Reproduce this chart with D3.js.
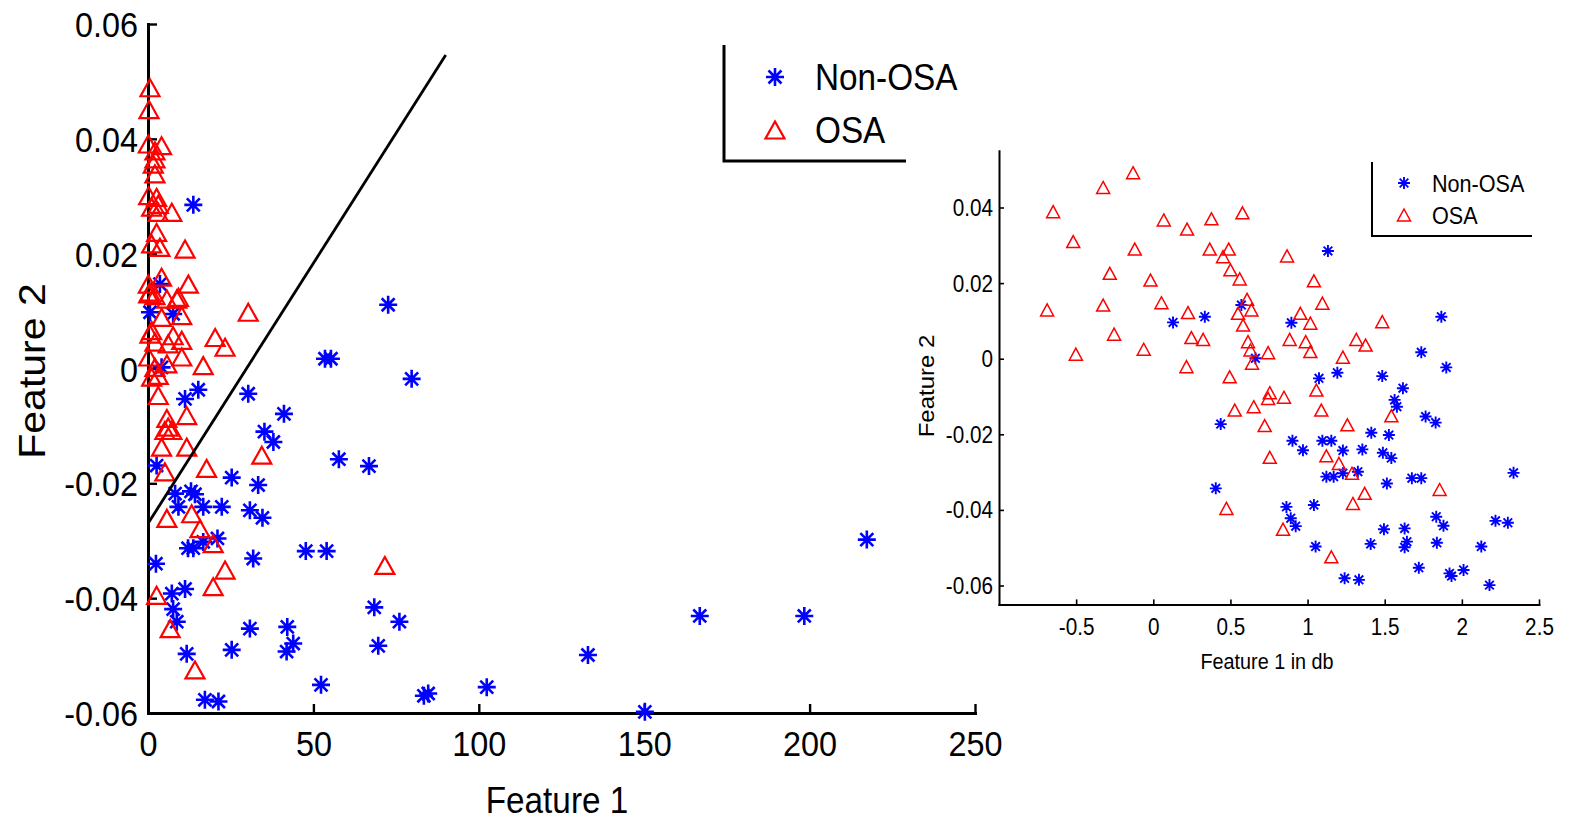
<!DOCTYPE html>
<html><head><meta charset="utf-8">
<script src="https://cdn.jsdelivr.net/npm/d3@7"></script>
<style>body{margin:0;background:#fff} svg{display:block} text{font-family:"Liberation Sans",Arial,sans-serif;fill:#000}</style>
</head><body><svg id="c" width="1570" height="822"></svg>
<script>
// ---------- DATA ----------
const leftNonOSA=[[13.7,0.0285],[3.6,0.0147],[0.6,0.0098],[7.6,0.0095],[4.1,0.0002],[15.2,-0.0037],[11.2,-0.0053],[30.3,-0.0044],[35.2,-0.0110],[37.9,-0.0128],[41.1,-0.0079],[2.6,-0.0169],[25.3,-0.0190],[33.3,-0.0203],[8.2,-0.0218],[13.0,-0.0214],[14.2,-0.0219],[9.2,-0.0241],[16.7,-0.0241],[22.3,-0.0241],[30.8,-0.0247],[34.6,-0.0260],[13.7,-0.0313],[12.1,-0.0313],[16.7,-0.0302],[21.0,-0.0296],[2.4,-0.0340],[31.8,-0.0331],[11.2,-0.0384],[7.2,-0.0392],[7.6,-0.0419],[8.7,-0.0441],[30.8,-0.0453],[25.3,-0.0490],[11.7,-0.0497],[17.2,-0.0577],[21.3,-0.0580],[72.6,0.0111],[53.5,0.0017],[55.3,0.0017],[79.7,-0.0018],[57.7,-0.0158],[66.8,-0.0170],[47.7,-0.0318],[54.0,-0.0318],[68.4,-0.0416],[76.0,-0.0441],[42.1,-0.0450],[43.9,-0.0479],[41.9,-0.0493],[69.6,-0.0483],[52.3,-0.0551],[84.7,-0.0566],[83.4,-0.0570],[102.4,-0.0555],[133.0,-0.0499],[150.2,-0.0598],[166.8,-0.0431],[198.4,-0.0431],[217.3,-0.0298]];
const leftOSA=[[0.6,0.0489],[0.3,0.0451],[0.1,0.0391],[4.1,0.0388],[2.1,0.0379],[2.1,0.0365],[1.6,0.0356],[2.1,0.0339],[0.2,0.0301],[2.6,0.0298],[3.1,0.0286],[1.1,0.0281],[3.1,0.0272],[7.2,0.0272],[2.6,0.0237],[1.1,0.0217],[3.6,0.0211],[11.2,0.0208],[4.1,0.0159],[0.1,0.0147],[12.2,0.0147],[0.2,0.0130],[2.1,0.0127],[5.7,0.0121],[8.7,0.0121],[30.3,0.0098],[4.1,0.0089],[10.2,0.0092],[1.1,0.0066],[7.6,0.0057],[10.2,0.0049],[20.3,0.0054],[23.3,0.0037],[2.1,0.0046],[6.1,0.0043],[0.2,0.0020],[10.2,0.0020],[16.7,0.0005],[5.7,0.0008],[2.1,0.0002],[1.1,-0.0015],[3.1,-0.0012],[3.1,-0.0047],[11.7,-0.0082],[5.7,-0.0087],[6.1,-0.0102],[5.1,-0.0108],[7.2,-0.0108],[4.1,-0.0137],[11.7,-0.0137],[5.1,-0.0180],[17.7,-0.0174],[34.4,-0.0151],[5.7,-0.0261],[13.2,-0.0253],[15.7,-0.0279],[19.7,-0.0305],[23.3,-0.0351],[19.7,-0.0380],[2.6,-0.0395],[6.7,-0.0453],[14.2,-0.0525],[71.6,-0.0343],[0.6,0.0060],[9.2,0.0124],[0.6,0.0133]];
const rightNonOSA=[[1.132,0.0285],[0.128,0.0096],[0.334,0.0111],[0.571,0.0142],[0.662,0.0001],[0.437,-0.0173],[0.895,0.0095],[1.867,0.0111],[1.737,0.0017],[1.899,-0.0023],[1.193,-0.0037],[1.074,-0.0052],[1.484,-0.0046],[1.618,-0.0078],[1.564,-0.0109],[1.579,-0.0127],[1.765,-0.0153],[1.830,-0.0169],[1.413,-0.0196],[1.527,-0.0202],[0.902,-0.0217],[1.096,-0.0217],[1.154,-0.0217],[0.970,-0.0242],[1.229,-0.0243],[1.355,-0.0240],[1.488,-0.0249],[1.543,-0.0263],[1.122,-0.0312],[1.169,-0.0312],[1.229,-0.0303],[1.326,-0.0299],[1.514,-0.0330],[1.676,-0.0316],[1.737,-0.0316],[2.335,-0.0302],[0.405,-0.0343],[0.863,-0.0392],[1.041,-0.0387],[0.891,-0.0422],[0.923,-0.0443],[1.495,-0.0451],[1.629,-0.0449],[1.834,-0.0418],[1.881,-0.0442],[1.644,-0.0484],[1.629,-0.0499],[1.409,-0.0490],[1.052,-0.0497],[1.838,-0.0487],[2.126,-0.0497],[2.218,-0.0429],[2.298,-0.0434],[1.721,-0.0553],[1.920,-0.0568],[1.933,-0.0575],[2.011,-0.0559],[1.240,-0.0581],[1.333,-0.0585],[2.179,-0.0599]];
const rightOSA=[[-0.131,0.0492],[-0.325,0.0453],[-0.649,0.0389],[0.068,0.0367],[0.377,0.0370],[0.578,0.0386],[0.219,0.0343],[-0.519,0.0310],[-0.120,0.0290],[0.366,0.0290],[0.489,0.0290],[0.452,0.0270],[-0.282,0.0226],[-0.018,0.0208],[0.500,0.0235],[0.560,0.0211],[-0.688,0.0129],[-0.325,0.0142],[0.053,0.0148],[0.225,0.0122],[0.608,0.0157],[0.549,0.0120],[0.636,0.0129],[0.582,0.0089],[-0.254,0.0065],[0.247,0.0056],[0.323,0.0051],[-0.062,0.0025],[-0.502,0.0012],[0.614,0.0045],[0.630,0.0023],[0.744,0.0016],[0.640,-0.0012],[0.215,-0.0021],[0.495,-0.0048],[0.755,-0.0090],[0.744,-0.0105],[0.528,-0.0136],[0.651,-0.0127],[0.722,-0.0177],[0.867,0.0272],[1.041,0.0206],[1.096,0.0147],[0.953,0.0120],[1.018,0.0094],[1.484,0.0098],[0.884,0.0051],[0.988,0.0045],[1.018,0.0019],[1.316,0.0051],[1.376,0.0036],[1.229,0.0004],[0.847,-0.0102],[1.057,-0.0083],[1.089,-0.0136],[1.543,-0.0151],[1.258,-0.0175],[0.755,-0.0261],[1.122,-0.0257],[1.203,-0.0277],[1.288,-0.0303],[1.370,-0.0356],[0.474,-0.0396],[1.294,-0.0383],[0.841,-0.0451],[1.856,-0.0346],[1.154,-0.0524]];
const boundaryLine=[[0,-0.027],[90,0.0546]];
const leftXTicks=[0,50,100,150,200,250];
const leftYTicks=[-0.06,-0.04,-0.02,0,0.02,0.04,0.06];
const rightXTicks=[-0.5,0,0.5,1,1.5,2,2.5];
const rightYTicks=[-0.06,-0.04,-0.02,0,0.02,0.04];
const legendLabels=["Non-OSA","OSA"];
const axisTitles={leftX:"Feature 1",leftY:"Feature 2",rightX:"Feature 1 in db",rightY:"Feature 2"};

// ---------- DRAW ----------
const SX=0.9;
const svg=d3.select("#c");
const BLUE="#0000ff", RED="#ff0000";
function starPath(r){const d=r*0.72;return `M${-r},0H${r}M0,${-r}V${r}M${-d},${-d}L${d},${d}M${-d},${d}L${d},${-d}`;}
function triPath(w,h){return `M0,${-h/2}L${w/2},${h/2}L${-w/2},${h/2}Z`;}

function panel(c){
  const x=d3.scaleLinear().domain(c.xd).range(c.xr);
  const y=d3.scaleLinear().domain(c.yd).range(c.yr);
  const g=svg.append("g");
  const gx=g.append("g").attr("transform",`translate(0,${c.yr[0]})`)
    .call(d3.axisBottom(x).tickValues(c.xt).tickSize(-c.ts).tickSizeOuter(0).tickFormat(d=>String(d)));
  const gy=g.append("g").attr("transform",`translate(${c.xr[0]},0)`)
    .call(d3.axisLeft(y).tickValues(c.yt).tickSize(-c.ts).tickSizeOuter(0).tickFormat(d=>String(d)));
  [gx,gy].forEach(a=>{
    a.select(".domain").attr("stroke","#000").attr("stroke-width",c.aw).attr("stroke-linecap","square");
    a.selectAll(".tick line").attr("stroke","#000").attr("stroke-width",c.aw*0.8);
    a.selectAll("text").attr("font-size",c.fs).attr("fill","#000").attr("font-family",'"Liberation Sans",Arial,sans-serif');
  });
  gx.selectAll("text").attr("y",c.xlo).attr("dy","0.71em").attr("transform",`scale(${SX},1)`);
  gy.selectAll("text").attr("x",-c.ylo/SX).attr("dy","0.35em").attr("transform",`scale(${SX},1)`);
  g.append("g").selectAll("path").data(c.non).join("path")
    .attr("d",starPath(c.sr)).attr("transform",d=>`translate(${x(d[0])},${y(d[1])})`)
    .attr("fill","none").attr("stroke",BLUE).attr("stroke-width",c.ssw);
  g.append("g").selectAll("path").data(c.osa).join("path")
    .attr("d",triPath(c.tw,c.th)).attr("transform",d=>`translate(${x(d[0])},${y(d[1])})`)
    .attr("fill","none").attr("stroke",RED).attr("stroke-width",c.msw);
  g.append("text").attr("transform",`translate(${c.xtx},${c.xty}) scale(${SX},1)`)
    .attr("text-anchor","middle").attr("font-size",c.tfs).text(c.xtitle);
  g.append("text").attr("transform",`translate(${c.ytx},${c.yty}) scale(${SX},1) rotate(-90)`)
    .attr("text-anchor","middle").attr("font-size",c.tyfs).text(c.ytitle);
  const L=c.leg;
  g.append("path").attr("d",`M${L.x},${L.y0}V${L.y1}H${L.x1}`).attr("fill","none").attr("stroke","#000").attr("stroke-width",c.aw);
  legendLabels.forEach((lab,i)=>{
    const my=L.my[i];
    if(i===0) g.append("path").attr("d",starPath(c.sr)).attr("transform",`translate(${L.mx},${my})`).attr("fill","none").attr("stroke",BLUE).attr("stroke-width",c.ssw);
    else g.append("path").attr("d",triPath(c.tw,c.th)).attr("transform",`translate(${L.mx},${my})`).attr("fill","none").attr("stroke",RED).attr("stroke-width",c.msw);
    g.append("text").attr("transform",`translate(${L.tx},${my}) scale(${SX},1)`).attr("dy","0.36em")
      .attr("font-size",L.fs).text(lab);
  });
  return {x,y,g};
}

const P1=panel({xd:[0,250],xr:[148,975],yd:[-0.06,0.06],yr:[713,24],xt:leftXTicks,yt:leftYTicks,
  ts:9,aw:3,fs:36,xlo:17,ylo:10,non:leftNonOSA,osa:leftOSA,sr:9,tw:19,th:17,msw:2.2,ssw:2.6,
  xtitle:axisTitles.leftX,xtx:557,xty:813,tfs:37,ytitle:axisTitles.leftY,ytx:45,yty:371,tyfs:41,
  leg:{x:724,y0:45,y1:161,x1:906,mx:775,my:[77,130],tx:815,fs:37}});
P1.g.append("path").datum(boundaryLine)
  .attr("d",d3.line().x(d=>P1.x(d[0])).y(d=>P1.y(d[1])))
  .attr("fill","none").attr("stroke","#000").attr("stroke-width",2.8);

panel({xd:[-1,2.5],xr:[999,1539],yd:[-0.065,0.055],yr:[604.4,150.8],xt:rightXTicks,yt:rightYTicks,
  ts:5,aw:2,fs:23,xlo:14,ylo:6,non:rightNonOSA,osa:rightOSA,sr:6,tw:13,th:12,msw:1.5,ssw:1.9,
  xtitle:axisTitles.rightX,xtx:1267,xty:669,tfs:22,ytitle:axisTitles.rightY,ytx:934,yty:386,tyfs:24,
  leg:{x:1372,y0:162,y1:236,x1:1532,mx:1404,my:[183,215],tx:1432,fs:24}});
</script></body></html>
